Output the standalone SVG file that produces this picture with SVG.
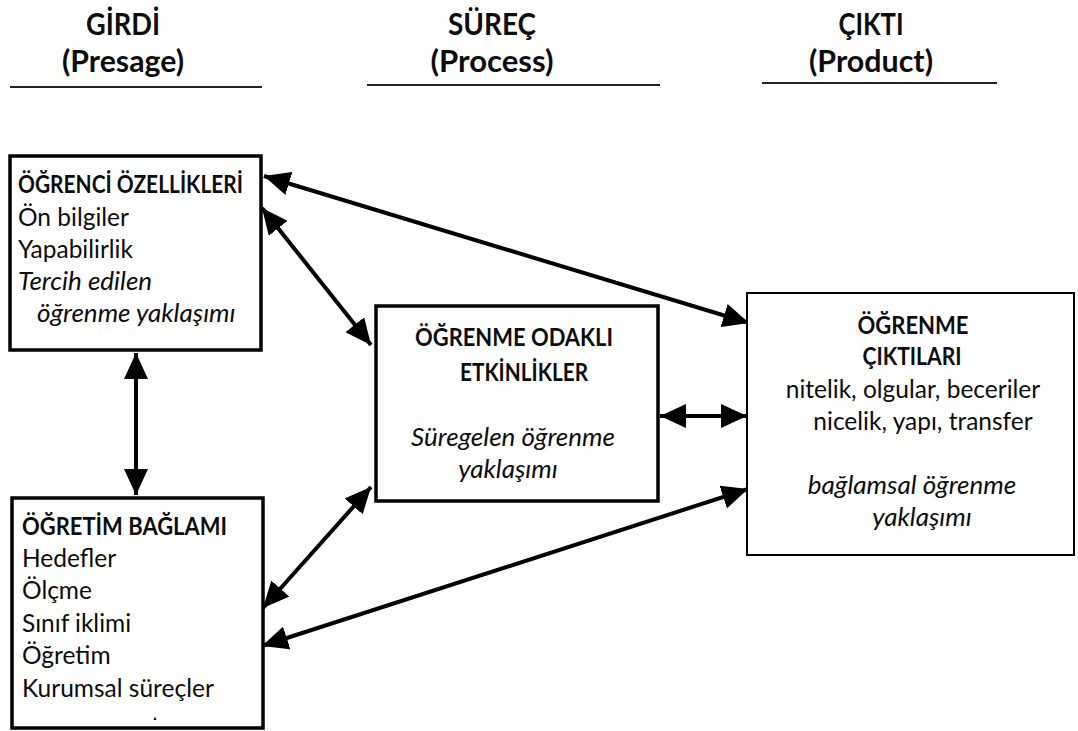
<svg xmlns="http://www.w3.org/2000/svg" width="1078" height="731" viewBox="0 0 1078 731">
  <style>
    text { font-family: Lato, "Open Sans", "Liberation Sans", sans-serif; fill: #0d0d0d; }
    .head { font-size: 30px; font-weight: bold; text-anchor: middle; }
    .t { font-size: 24.5px; }
    .b { font-weight: bold; font-size: 25px; }
    .i { font-style: italic; font-size: 26px; }
    .c { text-anchor: middle; }
    .box { fill: #fff; stroke: #000; stroke-width: 3.5; }
    .thin { stroke-width: 2; }
    .rule { stroke: #222; stroke-width: 2; }
    .link { stroke: #000; stroke-width: 4; fill: none; marker-start: url(#head); marker-end: url(#head); }
  </style>
  <defs>
    <marker id="head" markerUnits="userSpaceOnUse" markerWidth="26" markerHeight="24" refX="26" refY="12" orient="auto-start-reverse" viewBox="0 0 26 24">
      <path d="M0,0 L26,12 L0,24 z" fill="#000"/>
    </marker>
  </defs>

  <rect width="1078" height="731" fill="#fff"/>

  <!-- column headings -->
  <g id="headings">
    <text class="head" x="123" y="35" textLength="74" lengthAdjust="spacingAndGlyphs">GİRDİ</text>
    <text class="head" x="123" y="72" textLength="122" lengthAdjust="spacingAndGlyphs">(Presage)</text>
    <line class="rule" x1="10" y1="87" x2="262" y2="87"/>
    <text class="head" x="492" y="35" textLength="88" lengthAdjust="spacingAndGlyphs">SÜREÇ</text>
    <text class="head" x="492" y="72" textLength="123" lengthAdjust="spacingAndGlyphs">(Process)</text>
    <line class="rule" x1="367" y1="85" x2="660" y2="85"/>
    <text class="head" x="871" y="35" textLength="65" lengthAdjust="spacingAndGlyphs">ÇIKTI</text>
    <text class="head" x="871" y="72" textLength="124" lengthAdjust="spacingAndGlyphs">(Product)</text>
    <line class="rule" x1="762" y1="83" x2="997" y2="83"/>
  </g>

  <!-- connectors -->
  <g id="connectors">
    <line class="link" x1="264" y1="176" x2="749" y2="323"/>
    <line class="link" x1="262" y1="208" x2="371" y2="345"/>
    <line class="link" x1="136" y1="353" x2="136" y2="495"/>
    <line class="link" x1="263" y1="608" x2="371" y2="487"/>
    <line class="link" x1="262" y1="646" x2="748" y2="489"/>
    <line class="link" x1="660" y1="416" x2="747" y2="416"/>
  </g>

  <g id="student-characteristics">
    <rect class="box" x="10" y="156" width="251" height="194"/>
    <text class="t b" x="18" y="193" textLength="225" lengthAdjust="spacingAndGlyphs">ÖĞRENCİ ÖZELLİKLERİ</text>
    <text class="t" x="18" y="226">Ön bilgiler</text>
    <text class="t" x="18" y="258">Yapabilirlik</text>
    <text class="t i" x="18" y="290">Tercih edilen</text>
    <text class="t i" x="37" y="322">öğrenme yaklaşımı</text>
  </g>

  <g id="teaching-context">
    <rect class="box" x="12" y="498" width="251" height="230"/>
    <text class="t b" x="22" y="535" textLength="205" lengthAdjust="spacingAndGlyphs">ÖĞRETİM BAĞLAMI</text>
    <text class="t" x="22" y="567">Hedefler</text>
    <text class="t" x="22" y="599">Ölçme</text>
    <text class="t" x="22" y="632">Sınıf iklimi</text>
    <text class="t" x="22" y="664">Öğretim</text>
    <text class="t" x="22" y="697">Kurumsal süreçler</text>
    <path d="M153.5,720 L155,716.5 L156.5,720 z" fill="#000"/>
  </g>

  <g id="learning-activities">
    <rect class="box" x="376" y="306" width="282" height="195"/>
    <text class="t b c" x="514" y="346" textLength="198" lengthAdjust="spacingAndGlyphs">ÖĞRENME ODAKLI</text>
    <text class="t b c" x="524" y="381" textLength="128" lengthAdjust="spacingAndGlyphs">ETKİNLİKLER</text>
    <text class="t i c" x="513" y="446">Süregelen öğrenme</text>
    <text class="t i c" x="508" y="478">yaklaşımı</text>
  </g>

  <g id="learning-outcomes">
    <rect class="box thin" x="747" y="293" width="327" height="262"/>
    <text class="t b c" x="913" y="334" textLength="111" lengthAdjust="spacingAndGlyphs">ÖĞRENME</text>
    <text class="t b c" x="912" y="365" textLength="99" lengthAdjust="spacingAndGlyphs">ÇIKTILARI</text>
    <text class="t c" x="913" y="398">nitelik, olgular, beceriler</text>
    <text class="t c" x="923" y="430">nicelik, yapı, transfer</text>
    <text class="t i c" x="912" y="494">bağlamsal öğrenme</text>
    <text class="t i c" x="922" y="526">yaklaşımı</text>
  </g>
</svg>
